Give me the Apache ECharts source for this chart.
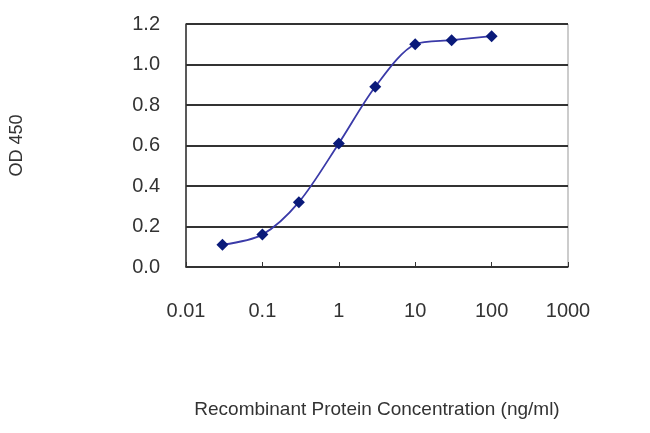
<!DOCTYPE html>
<html><head><meta charset="utf-8">
<script src="https://cdn.jsdelivr.net/npm/echarts@6/dist/echarts.min.js"></script>
<style>html,body{margin:0;background:#fff}#c{width:650px;height:433px}</style>
</head><body><div id="c"></div>
<script>
var conc = [0.03, 0.1, 0.3, 1, 3, 10, 30, 100];
var od = [0.11, 0.16, 0.32, 0.61, 0.89, 1.10, 1.12, 1.14];
var font = 'Liberation Sans, Arial, sans-serif';
var chart = echarts.init(document.getElementById('c'));
chart.setOption({
  animation: false,
  grid: {left: 182, right: 82, top: 24, bottom: 166, show: true, borderColor: '#999', borderWidth: 1},
  xAxis: {
    type: 'log', min: 0.01, max: 1000, logBase: 10,
    name: 'Recombinant Protein Concentration (ng/ml)', nameLocation: 'middle', nameGap: 133,
    nameTextStyle: {fontFamily: font, fontSize: 19, color: '#333'},
    axisLine: {lineStyle: {color: '#333', width: 1.5}},
    axisTick: {inside: true, length: 5, lineStyle: {color: '#333'}},
    axisLabel: {fontFamily: font, fontSize: 20, color: '#333', margin: 34, formatter: function (v) { return String(v); }},
    splitLine: {show: false}
  },
  yAxis: {
    type: 'value', min: 0, max: 1.2, interval: 0.2,
    name: 'OD 450', nameLocation: 'middle', nameGap: 160,
    nameTextStyle: {fontFamily: font, fontSize: 18, color: '#333'},
    axisLine: {show: true, lineStyle: {color: '#333', width: 1.5}},
    axisTick: {show: true, inside: true, length: 5, lineStyle: {color: '#333'}},
    axisLabel: {fontFamily: font, fontSize: 20, color: '#333', margin: 26, formatter: function (v) { return v.toFixed(1); }},
    splitLine: {lineStyle: {color: '#333', width: 2}}
  },
  series: [{
    type: 'line', smooth: 0.3,
    data: conc.map(function (c, i) { return [c, od[i]]; }),
    symbol: 'diamond', symbolSize: 12,
    lineStyle: {color: '#3a3aa8', width: 1.8},
    itemStyle: {color: '#0a1a7a'}
  }]
});
</script></body></html>
